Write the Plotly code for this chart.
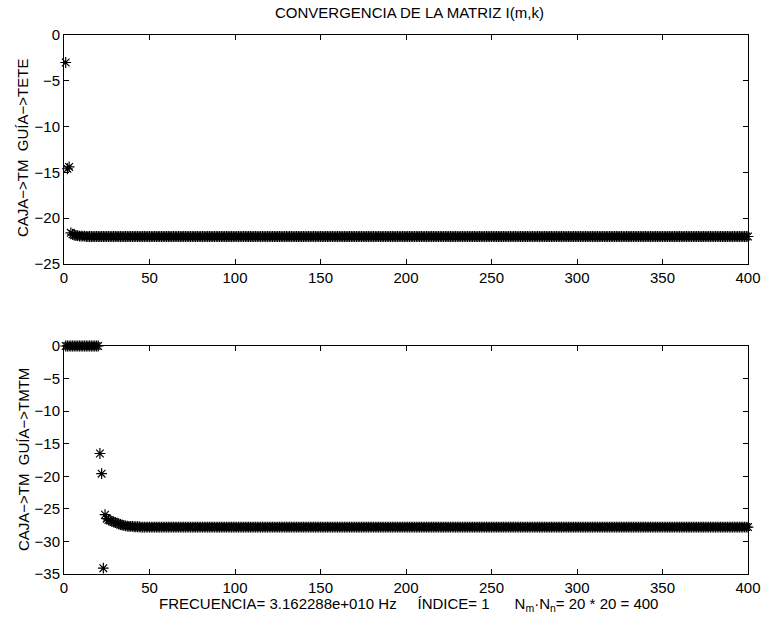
import plotly.graph_objects as go

# ---- data ----
n_total = 400
# top panel: CAJA->TM  GUÍA->TETE
top_head = [-3.0, -14.6, -14.4, -21.6, -21.75, -21.85, -21.9, -21.9, -21.95, -21.95,
            -21.95, -21.95, -22.0, -22.0, -22.0]
top_tail_value = -22.0
top_values = top_head + [top_tail_value] * (n_total - len(top_head))

# bottom panel: CAJA->TM  GUÍA->TMTM
bot_head = [0.0] * 20 + [-16.5, -19.6, -34.1, -25.9, -26.5, -26.7, -26.8, -26.9, -27.0,
                         -27.1, -27.2, -27.3, -27.4, -27.5, -27.55, -27.6, -27.65, -27.7,
                         -27.7, -27.7, -27.75, -27.75, -27.75, -27.75, -27.8]
bot_tail_value = -27.8
bot_values = bot_head + [bot_tail_value] * (n_total - len(bot_head))

x_index = list(range(1, n_total + 1))
x_ticks = [0, 50, 100, 150, 200, 250, 300, 350, 400]
top_yticks = [0, -5, -10, -15, -20, -25]
bot_yticks = [0, -5, -10, -15, -20, -25, -30, -35]

title_text = "CONVERGENCIA DE LA MATRIZ I(m,k)"
top_ylabel = "CAJA−&gt;TM&nbsp;&nbsp;GUÍA−&gt;TETE"
bot_ylabel = "CAJA−&gt;TM&nbsp;&nbsp;GUÍA−&gt;TMTM"
bot_xlabel = ("FRECUENCIA= 3.162288e+010 Hz&nbsp;&nbsp;&nbsp;&nbsp;&nbsp;ÍNDICE= 1"
              "&nbsp;&nbsp;&nbsp;&nbsp;&nbsp;&nbsp;N<sub>m</sub>·N<sub>n</sub>= 20 * 20 = 400")

W, H = 763, 621
FONT = "Liberation Sans, Arial, sans-serif"
FS = 15

def px_x(p):
    return p / W

def px_y(p):
    return (H - p) / H

marker = dict(symbol="asterisk-open", size=9, color="black",
              line=dict(color="black", width=1.2))

fig = go.Figure()
fig.add_trace(go.Scatter(x=x_index, y=top_values, mode="markers", marker=marker,
                         xaxis="x", yaxis="y", showlegend=False, cliponaxis=False))
fig.add_trace(go.Scatter(x=x_index, y=bot_values, mode="markers", marker=marker,
                         xaxis="x2", yaxis="y2", showlegend=False, cliponaxis=False))

axis_common = dict(showgrid=False, zeroline=False, showline=True, linecolor="black",
                   linewidth=1, mirror="allticks", ticks="inside", ticklen=5,
                   tickcolor="black", automargin=False,
                   tickfont=dict(family=FONT, size=FS, color="black"))

xdom = [px_x(64), px_x(748)]
fig.update_layout(
    width=W, height=H,
    margin=dict(l=0, r=0, t=0, b=0),
    paper_bgcolor="white", plot_bgcolor="white",
    font=dict(family=FONT, size=FS, color="black"),
    xaxis=dict(domain=xdom, range=[0, 400], tickvals=x_ticks, anchor="y", **axis_common),
    yaxis=dict(domain=[px_y(264), px_y(35)], range=[-25, 0], tickvals=top_yticks,
               anchor="x", **axis_common),
    xaxis2=dict(domain=xdom, range=[0, 400], tickvals=x_ticks, anchor="y2", **axis_common),
    yaxis2=dict(domain=[px_y(574), px_y(346)], range=[-35, 0], tickvals=bot_yticks,
                anchor="x2", **axis_common),
    annotations=[
        dict(text=title_text, x=px_x(409), y=px_y(13), xref="paper", yref="paper",
             showarrow=False, xanchor="center", yanchor="middle",
             font=dict(family=FONT, size=FS, color="black")),
        dict(text=top_ylabel, x=px_x(23), y=px_y(148), xref="paper", yref="paper",
             showarrow=False, textangle=-90, xanchor="center", yanchor="middle",
             font=dict(family=FONT, size=FS, color="black")),
        dict(text=bot_ylabel, x=px_x(23), y=px_y(460), xref="paper", yref="paper",
             showarrow=False, textangle=-90, xanchor="center", yanchor="middle",
             font=dict(family=FONT, size=FS, color="black")),
        dict(text=bot_xlabel, x=px_x(408), y=px_y(604), xref="paper", yref="paper",
             showarrow=False, xanchor="center", yanchor="middle",
             font=dict(family=FONT, size=FS, color="black")),
    ],
)

fig.write_html("out.html")
